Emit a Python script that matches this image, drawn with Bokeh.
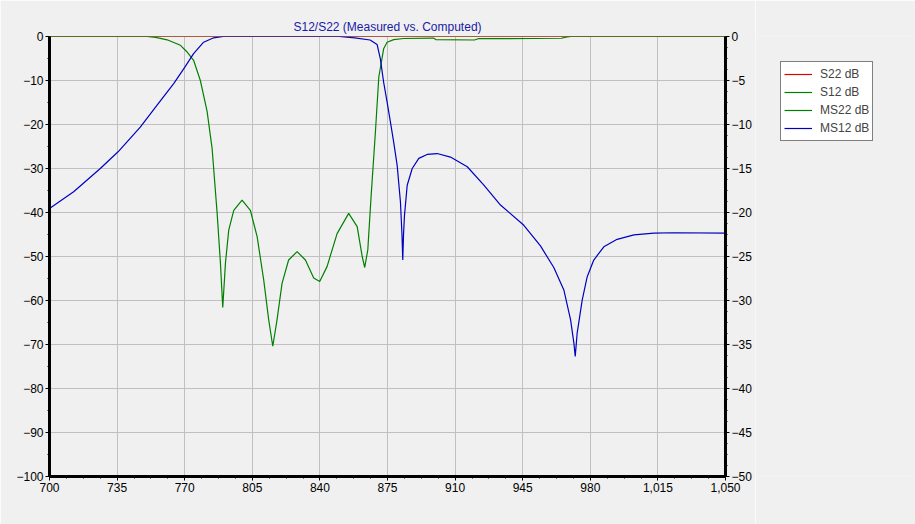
from bokeh.plotting import figure
from bokeh.layouts import row
from bokeh.models import (Range1d, LinearAxis, FixedTicker, NumeralTickFormatter,
                          Legend, LegendItem)
from bokeh.embed import file_html
from bokeh.resources import INLINE

# ---- data ----
freq_ticks = [700, 735, 770, 805, 840, 875, 910, 945, 980, 1015, 1050]
left_ticks = [-100, -90, -80, -70, -60, -50, -40, -30, -20, -10, 0]
right_ticks = [-50, -45, -40, -35, -30, -25, -20, -15, -10, -5, 0]

s22_freq = [700, 1050]
s22_db = [0, 0]

s12_freq = [700, 1050]
s12_db = [0, 0]

ms22_freq = [700, 750.5, 755, 760.9, 767.8, 771, 774.6, 778.1, 781.6, 784.2, 786.8,
             788.5, 789.7, 791.1, 792.8, 795.4, 799.7, 804, 807.5, 810.9, 813.5,
             815.6, 817.8, 820.4, 823.8, 828.2, 832.5, 836.8, 839.9, 843.7, 848.9,
             854.9, 859.3, 861.9, 863.2, 864.8, 866.5, 868.8, 870.5, 873, 874.8,
             878.2, 883.4, 898.8, 900, 920, 922, 965, 968, 970, 1050]
ms22_db = [0, 0, -0.2, -0.75, -2.0, -3.4, -5.4, -10, -17, -25.5, -40.2,
           -51.5, -61.6, -51.5, -44, -39.5, -37.2, -39.5, -45.5, -55.3, -64.4,
           -70.4, -64.4, -56.1, -50.8, -48.9, -50.8, -54.9, -55.7, -52.3, -44.8,
           -40.2, -43.2, -50, -52.5, -48.5, -36.4, -21.3, -9.2, -2.8, -1.3,
           -0.7, -0.45, -0.35, -0.7, -0.8, -0.5, -0.4, -0.1, 0, 0]

ms12_freq = [700, 712.5, 726.3, 735.5, 747, 755.7, 764.3, 770, 774.6, 779.8, 785,
             790, 850, 858, 866, 869.6, 871.3, 873, 874.8, 876.5, 878.2, 880,
             881.7, 882.5, 882.9, 883.3, 883.8, 885.2, 887.8, 891.2, 895.5, 900.7,
             907.6, 916.3, 924.9, 933.5, 945.6, 954.2, 961.1, 966.3, 969.8, 971.5,
             972.2, 973.2, 975.8, 978.4, 981.8, 987, 993.9, 1002.6, 1012.9, 1023.3,
             1050]
ms12_db = [-39.1, -35.3, -30.0, -26.2, -20.6, -15.6, -10.7, -7.0, -3.9, -1.3, -0.3,
           0, 0, -0.3, -0.8, -1.8, -5.1, -10.4, -14.9, -19.4, -24.0, -29.3,
           -37.6, -45, -50.8, -45, -40.6, -33.8, -30.0, -27.7, -26.8, -26.6,
           -27.4, -29.6, -33.8, -38.3, -42.9, -47.6, -52.5, -57.6, -64.4, -69.7,
           -72.7, -67.4, -59.9, -54.6, -50.8, -47.8, -46.1, -45.1, -44.7, -44.6,
           -44.7]

series = [("S22 dB", s22_freq, s22_db, "#E00000"),
          ("S12 dB", s12_freq, s12_db, "#008000"),
          ("MS22 dB", ms22_freq, ms22_db, "#008000"),
          ("MS12 dB", ms12_freq, ms12_db, "#0000C0")]

BG = "#F0F0F0"
FONT = "Liberation Sans"
LW = 1.2

# ---- main chart ----
p = figure(frame_width=676, frame_height=440,
           x_range=Range1d(700, 1050), y_range=Range1d(-100, 0),
           output_backend="svg", toolbar_location=None,
           min_border_left=49, min_border_right=30, min_border_top=36, min_border_bottom=48,
           background_fill_color=BG, border_fill_color=BG)
p.outline_line_color = None

p.title.text = "S12/S22 (Measured vs. Computed)"
p.title.align = "center"
p.title.text_color = "#1A1AA6"
p.title.text_font = FONT
p.title.text_font_size = "12px"
p.title.text_font_style = "normal"
p.title.standoff = 6

p.extra_y_ranges = {"right": Range1d(-50, 0)}
raxis = LinearAxis(y_range_name="right")
p.add_layout(raxis, "right")

p.xaxis.ticker = FixedTicker(ticks=freq_ticks,
                             minor_ticks=[700 + 8.75 * i for i in range(41)])
p.xaxis.formatter = NumeralTickFormatter(format="0,0")
p.yaxis.ticker = FixedTicker(ticks=left_ticks, minor_ticks=list(range(-100, 1, 5)))
raxis.ticker = FixedTicker(ticks=right_ticks, minor_ticks=[-50 + 1.25 * i for i in range(41)])

for ax in [p.xaxis[0], p.yaxis[0], raxis]:
    ax.axis_line_width = 3
    ax.axis_line_color = "black"
    ax.major_tick_line_color = "black"
    ax.minor_tick_line_color = "black"
    ax.major_tick_out = 4
    ax.major_tick_in = 0
    ax.minor_tick_out = 2
    ax.minor_tick_in = 0
    ax.major_label_text_font = FONT
    ax.major_label_text_font_size = "12px"
    ax.major_label_text_color = "black"
    ax.major_label_standoff = 2

p.xgrid.ticker = FixedTicker(ticks=freq_ticks)
p.ygrid.ticker = FixedTicker(ticks=left_ticks)
for g in [p.xgrid[0], p.ygrid[0]]:
    g.grid_line_color = "#C0C0C0"
    g.grid_line_width = 1

draw_order = [1, 0, 2, 3]
for i in draw_order:
    name, fx, fy, col = series[i]
    p.line(fx, fy, line_color=col, line_width=LW)

# ---- legend panel (separate canvas so that it is not clipped) ----
p2 = figure(width=160, height=524, x_range=Range1d(0, 1), y_range=Range1d(0, 1),
            output_backend="svg", toolbar_location=None,
            x_axis_type=None, y_axis_type=None,
            min_border_left=0, min_border_right=0, min_border_top=0, min_border_bottom=0,
            background_fill_color=BG, border_fill_color=BG)
p2.outline_line_color = None
p2.xgrid.visible = False
p2.ygrid.visible = False

items = []
for name, fx, fy, col in series:
    r = p2.line(fx, fy, line_color=col, line_width=LW)  # lies outside this canvas' ranges
    items.append(LegendItem(label=name, renderers=[r]))

legend = Legend(items=items, location=(25, 335))
legend.border_line_color = "black"
legend.border_line_width = 1
legend.background_fill_color = "white"
legend.background_fill_alpha = 1
legend.label_text_font = FONT
legend.label_text_font_size = "12px"
legend.glyph_width = 28
legend.glyph_height = 18
legend.label_height = 18
legend.spacing = 0
legend.padding = 3
legend.margin = 0
legend.label_standoff = 8
p2.add_layout(legend)

layout = row(p, p2, spacing=0)
html = file_html(layout, INLINE)
html = html.replace("<body>", '<body style="background-color:#F0F0F0;">', 1)
open("out.html", "w").write(html)
